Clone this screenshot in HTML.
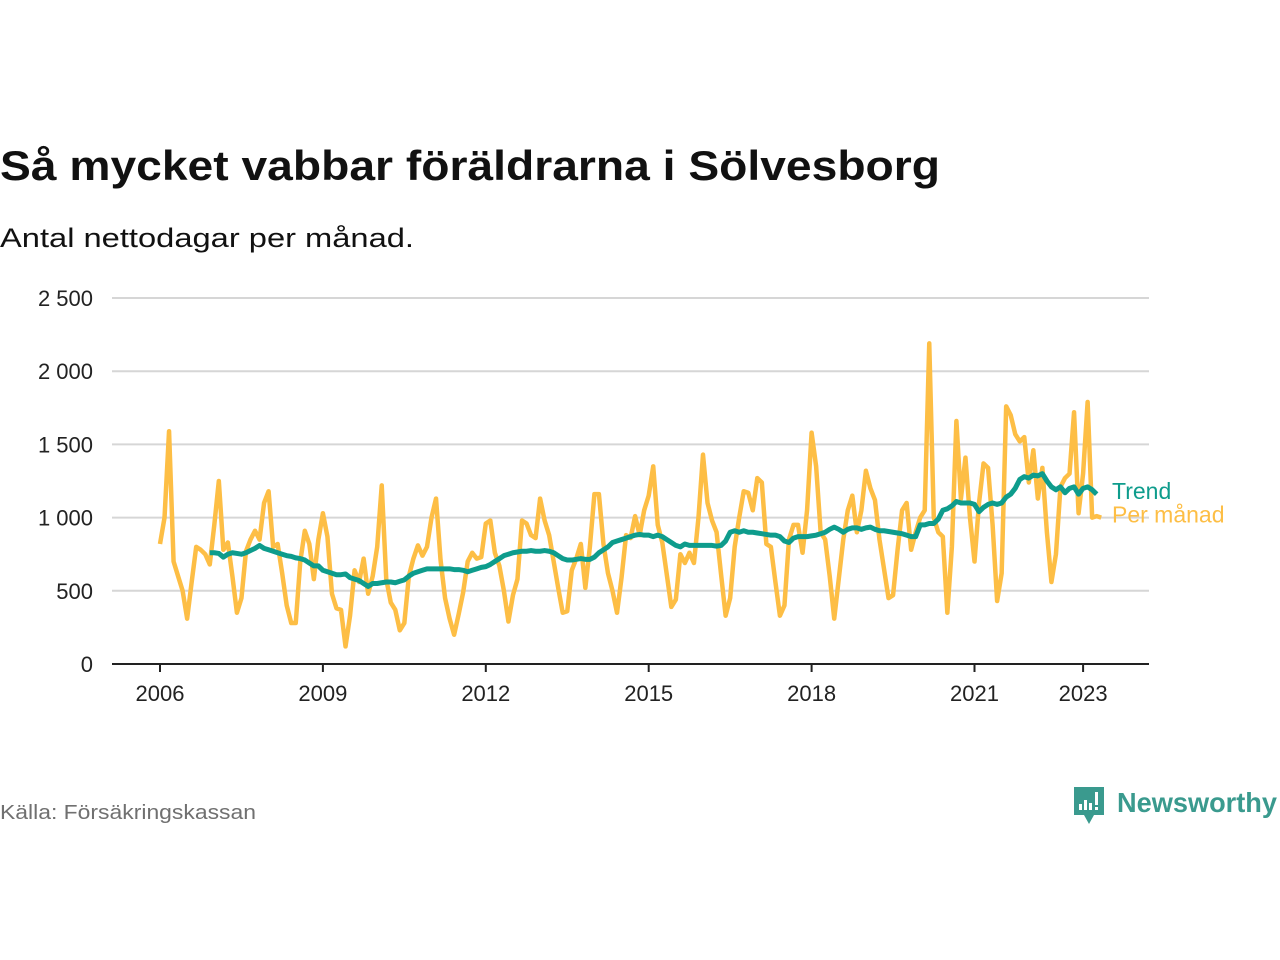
<!DOCTYPE html>
<html><head><meta charset="utf-8"><style>
html,body{margin:0;padding:0;background:#fff;}
svg{display:block;font-family:"Liberation Sans",sans-serif;}
</style></head><body>
<svg id="chart" width="1280" height="960" viewBox="0 0 1280 960">
<text x="0" y="180" font-size="42" font-weight="bold" fill="#111" textLength="940" lengthAdjust="spacingAndGlyphs">Så mycket vabbar föräldrarna i Sölvesborg</text>
<text x="0" y="247" font-size="27" fill="#111" textLength="414" lengthAdjust="spacingAndGlyphs">Antal nettodagar per månad.</text>
<g id="grid"></g><g id="xaxis"></g><g id="series"></g>
<text x="0" y="819" font-size="20" fill="#707070" textLength="256" lengthAdjust="spacingAndGlyphs">Källa: Försäkringskassan</text>
<g>
<path d="M1074 787 h30 v28 h-10 l-5 9 l-5 -9 h-10 z" fill="#3a9a8e"/>
<rect x="1079" y="804" width="3" height="6" fill="#fff"/><rect x="1084" y="800" width="3" height="10" fill="#fff"/><rect x="1089" y="803" width="3" height="7" fill="#fff"/><rect x="1095" y="792" width="3" height="13" fill="#fff"/><rect x="1095" y="807" width="3" height="3" fill="#fff"/>
<text x="1117" y="812" font-size="28" font-weight="bold" fill="#3a9a8e" textLength="160" lengthAdjust="spacingAndGlyphs">Newsworthy</text>
</g>
</svg>
<script>
const yTicks=[0,500,1000,1500,2000,2500];
const yTickLabels=["0","500","1 000","1 500","2 000","2 500"];
const xTicks=[2006,2009,2012,2015,2018,2021,2023];
const monthly=[
820,1000,1590,700,600,500,310,560,800,780,750,680,
950,1250,780,830,600,350,450,770,850,910,850,1100,
1180,800,820,620,400,280,280,700,910,820,580,850,
1030,870,480,380,370,120,330,640,560,720,480,600,
800,1220,580,420,370,230,280,600,720,810,740,800,
1000,1130,710,450,310,200,340,490,700,760,720,730,
960,980,760,670,500,290,470,580,980,960,880,860,
1130,980,880,700,520,350,360,640,720,820,520,800,
1160,1160,820,620,500,350,590,880,860,1010,880,1050,
1150,1350,950,830,610,390,440,750,690,760,690,1000,
1430,1100,980,900,610,330,450,800,1000,1180,1170,1050,
1270,1240,820,800,560,330,400,850,950,950,760,1050,
1580,1350,900,850,600,310,580,850,1050,1150,900,1050,
1320,1200,1120,850,650,450,470,780,1050,1100,780,900,
1000,1050,2190,1000,900,870,350,800,1660,1130,1410,1000,
700,1100,1370,1340,950,430,620,1760,1700,1570,1520,1550,
1240,1460,1130,1340,900,560,750,1210,1270,1300,1720,1030,
1300,1790,1000,1010,1000];
const trend=[
760,760,755,730,750,760,755,750,760,775,790,810,
790,780,770,760,750,740,735,725,720,710,690,670,
670,640,630,620,610,610,615,590,580,570,550,530,
550,550,555,560,560,555,565,575,600,620,630,640,
650,650,650,650,650,650,645,645,640,630,640,650,
660,665,680,700,720,740,750,760,765,770,770,775,
770,770,775,770,760,740,720,710,710,715,720,715,
715,730,760,780,800,830,840,850,860,870,880,885,
880,880,870,880,870,850,830,810,800,820,810,810,
810,810,810,810,805,810,840,900,910,900,910,900,
900,895,890,885,880,880,870,840,830,860,870,870,
870,875,880,890,900,920,935,920,900,920,930,930,
920,930,935,920,910,910,905,900,895,890,880,870,
870,950,950,960,960,990,1050,1060,1080,1110,1100,1100,
1100,1090,1040,1070,1090,1100,1090,1100,1140,1160,1200,1260,
1280,1270,1290,1285,1300,1250,1210,1190,1210,1170,1200,1210,
1160,1200,1210,1190,1160];
const NS="http://www.w3.org/2000/svg";
const x=t=>160+(t-2006)*54.3;
const y=v=>664-v*(366/2500);
function mk(tag,attrs,parent){const e=document.createElementNS(NS,tag);for(const k in attrs)e.setAttribute(k,attrs[k]);parent.appendChild(e);return e;}
const grid=document.getElementById('grid');
yTicks.forEach((v,i)=>{
 if(v>0){const l=mk('line',{x1:112,x2:1149,y1:y(v),y2:y(v),stroke:'#d6d6d6','stroke-width':2},grid);
 
 }
 const t=mk('text',{x:93,y:y(v)+8,'font-size':22,fill:'#222','text-anchor':'end'},grid);t.textContent=yTickLabels[i];
 
 
});
const xa=document.getElementById('xaxis');
const base=mk('line',{x1:112,x2:1149,y1:664,y2:664,stroke:'#222','stroke-width':2},xa);


xTicks.forEach(yr=>{
 mk('line',{x1:x(yr),x2:x(yr),y1:664,y2:672,stroke:'#222','stroke-width':2},xa);
 const t=mk('text',{x:x(yr),y:701,'font-size':22,fill:'#222','text-anchor':'middle'},xa);t.textContent=yr;
 
 
});
const s=document.getElementById('series');
const pm=mk('polyline',{fill:'none',stroke:'#fdbe45','stroke-width':4.5,'stroke-linejoin':'round',points:monthly.map((v,i)=>x(2006+i/12)+','+y(v)).join(' ')},s);


const tr=mk('polyline',{fill:'none',stroke:'#0e9c8c','stroke-width':5,'stroke-linejoin':'round',points:trend.map((v,i)=>x(2006+(i+11)/12)+','+y(v)).join(' ')},s);


const lt=mk('text',{x:1112,y:y(trend[trend.length-1])+5,'font-size':23,fill:'#0e9c8c'},s);lt.textContent='Trend';


const lp=mk('text',{x:1112,y:y(monthly[monthly.length-1])+5,'font-size':23,fill:'#fdbe45'},s);lp.textContent='Per månad';


</script>
</body></html>
